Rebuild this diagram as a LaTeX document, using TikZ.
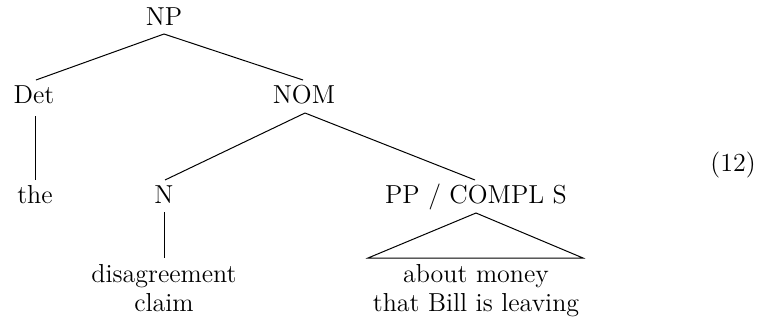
\documentclass[tikz,border=0pt]{standalone}
\begin{document}
\begin{tikzpicture}[x=0.5pt,y=-0.5pt,
  font=\fontsize{13}{15.6}\selectfont,
  cat/.style={inner sep=0pt,anchor=base},
  leaf/.style={inner sep=0pt,anchor=base,align=center,
    font=\fontsize{13}{14.5}\selectfont},
  edge/.style={line width=0.5pt}]
\useasboundingbox (0,0) rectangle (760,322);
% category labels
\node[cat] (np)  at (164,25) {NP};
\node[cat] (det) at (34,103) {Det};
\node[cat] (nom) at (304,103) {NOM};
\node[cat] (the) at (35,203) {the};
\node[cat] (n)   at (164,203) {N};
\node[cat] (pp)  at (476,203) {PP / COMPL S};
\node[leaf] (w1) at (164,311) {disagreement\\claim};
\node[leaf] (w2) at (476,311) {about money\\that Bill is leaving};
\node[cat] (num) at (733,171) {(12)};
% branches
\coordinate (npb) at (164,34);
\coordinate (dett) at (36,80);
\coordinate (detb) at (35,116);
\coordinate (nomt) at (303,80);
\coordinate (nomb) at (305,113);
\coordinate (thet) at (35,180);
\coordinate (nt) at (165,180);
\coordinate (nb) at (164,212);
\coordinate (ppt) at (475,180);
\coordinate (w1t) at (164,258);
\draw[edge] (npb) -- (dett);
\draw[edge] (npb) -- (nomt);
\draw[edge] (detb) -- (thet);
\draw[edge] (nomb) -- (nt);
\draw[edge] (nomb) -- (ppt);
\draw[edge] (nb) -- (w1t);
% roof over the unanalysed phrase
\coordinate (apex) at (476,213);
\coordinate (bl) at (368,258);
\coordinate (br) at (583,258);
\draw[edge] (apex) -- (bl) -- (br) -- cycle;
\end{tikzpicture}
\end{document}
